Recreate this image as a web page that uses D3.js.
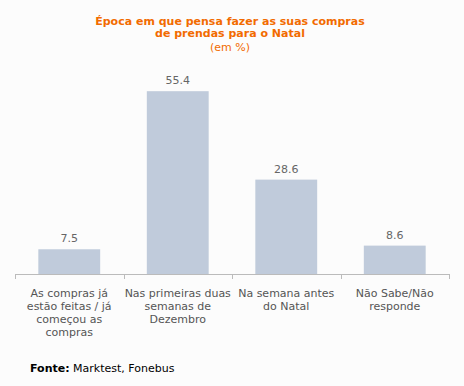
<!DOCTYPE html>
<html><head><meta charset="utf-8">
<script src="https://cdn.jsdelivr.net/npm/d3@7"></script>
<style>body{margin:0;background:#fcfcfc;}svg{display:block;}</style>
</head><body>
<script>
const categories = [
  ["As compras já","estão feitas / já","começou as","compras"],
  ["Nas primeiras duas","semanas de","Dezembro"],
  ["Na semana antes","do Natal"],
  ["Não Sabe/Não","responde"]
];
const values = [7.5, 55.4, 28.6, 8.6];
const titleLines = ["Época em que pensa fazer as suas compras","de prendas para o Natal"];
const subtitle = "(em %)";

const W = 464, H = 386;
const svg = d3.select("body").append("svg").attr("width", W).attr("height", H);
svg.append("rect").attr("width", W).attr("height", H).attr("fill", "#fcfcfc");
const font = "Verdana, 'DejaVu Sans', sans-serif";

const x = d3.scaleBand().domain(d3.range(values.length)).range([15, 449]).paddingInner(0.43).paddingOuter(0.215);
const y = d3.scaleLinear().domain([0, 60]).range([274, 76]);

svg.selectAll("rect.bar").data(values).join("rect")
  .attr("x", (d,i)=>x(i)).attr("width", x.bandwidth())
  .attr("y", d=>y(d)).attr("height", d=>y(0)-y(d)).attr("fill", "#c0cbdb");

svg.selectAll("text.val").data(values).join("text")
  .attr("x", (d,i)=>x(i)+x.bandwidth()/2).attr("y", d=>y(d)-7)
  .attr("text-anchor","middle").attr("font-family",font).attr("font-size",11).attr("fill","#666")
  .text(d=>d.toFixed(1));

// axis
const step = (449-15)/values.length;
svg.append("line").attr("x1",15).attr("x2",449).attr("y1",274.5).attr("y2",274.5).attr("stroke","#bbb");
d3.range(values.length+1).forEach(i=>{
  const xx = Math.round(15+i*step)+0.5;
  svg.append("line").attr("x1",xx).attr("x2",xx).attr("y1",274).attr("y2",279).attr("stroke","#bbb");
});

categories.forEach((lines,i)=>{
  const t = svg.append("text").attr("x", x(i)+x.bandwidth()/2).attr("y", 297)
    .attr("text-anchor","middle").attr("font-family",font).attr("font-size",11).attr("fill","#555");
  lines.forEach((l,j)=>t.append("tspan").attr("x", x(i)+x.bandwidth()/2).attr("dy", j?13:0).text(l));
});

titleLines.forEach((l,j)=>{
  svg.append("text").attr("x",230).attr("y",25+j*12).attr("text-anchor","middle")
    .attr("font-family",font).attr("font-size",11).attr("font-weight","bold").attr("fill","#f26b00").text(l);
});
svg.append("text").attr("x",230).attr("y",51).attr("text-anchor","middle")
  .attr("font-family",font).attr("font-size",11).attr("fill","#f26b00").text(subtitle);

const src = svg.append("text").attr("x",30).attr("y",372).attr("font-family",font).attr("font-size",11).attr("fill","#000");
src.append("tspan").attr("font-weight","bold").text("Fonte:");
src.append("tspan").text(" Marktest, Fonebus");
</script>
</body></html>
